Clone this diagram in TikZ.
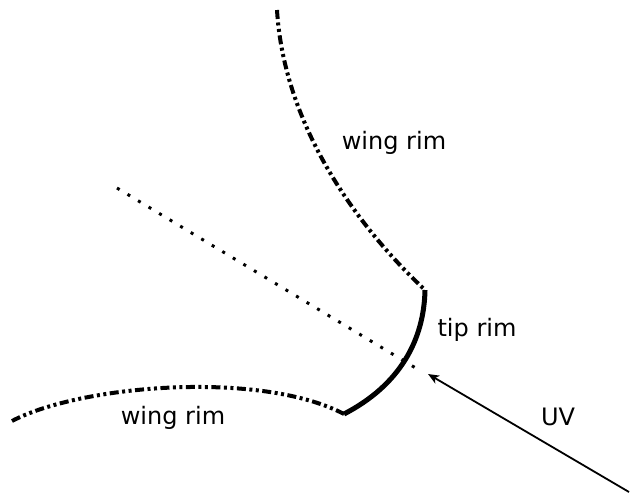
\documentclass[tikz,border=0pt]{standalone}
\usepackage{fontspec}
\setmainfont{DejaVu Sans}
\usetikzlibrary{arrows.meta}
\begin{document}
\begin{tikzpicture}[x=1pt,y=-1pt,
  wingrim/.style={line width=4pt,dash pattern=on 9pt off 3.5pt on 3pt off 3.5pt on 3pt off 3.5pt},
  tiprim/.style={line width=5pt},
  dotline/.style={line width=3pt,dash pattern=on 3pt off 9.3pt},
  uvarrow/.style={line width=1.8pt,-{Stealth[length=11pt,width=9pt,inset=3pt]}},
  lbl/.style={font=\fontsize{24}{28}\selectfont,inner sep=0pt}]
\useasboundingbox (0,0) rectangle (631,501);
\coordinate (wtop) at (277,10);
\coordinate (tipA) at (425,290);
\coordinate (tipB) at (344,414);
\coordinate (wleft) at (12,421);
\coordinate (dotS) at (117,188);
\coordinate (dotE) at (419,370);
\coordinate (uvS) at (629,492);
\coordinate (uvE) at (428,374);
\draw[wingrim] (wtop) .. controls (283,110) and (340,210) .. (tipA);
\draw[wingrim] (wleft) .. controls (80,385) and (260,370) .. (tipB);
\draw[tiprim] (tipA) .. controls (424,340) and (400,385) .. (tipB);
\draw[dotline] (dotS) -- (dotE);
\draw[uvarrow] (uvS) -- (uvE);
\node[lbl] (w1) at (394,143) {wing rim};
\node[lbl] (w2) at (173,418) {wing rim};
\node[lbl] (tr) at (477,330) {tip rim};
\node[lbl] (uv) at (558,417) {UV};
\end{tikzpicture}
\end{document}
